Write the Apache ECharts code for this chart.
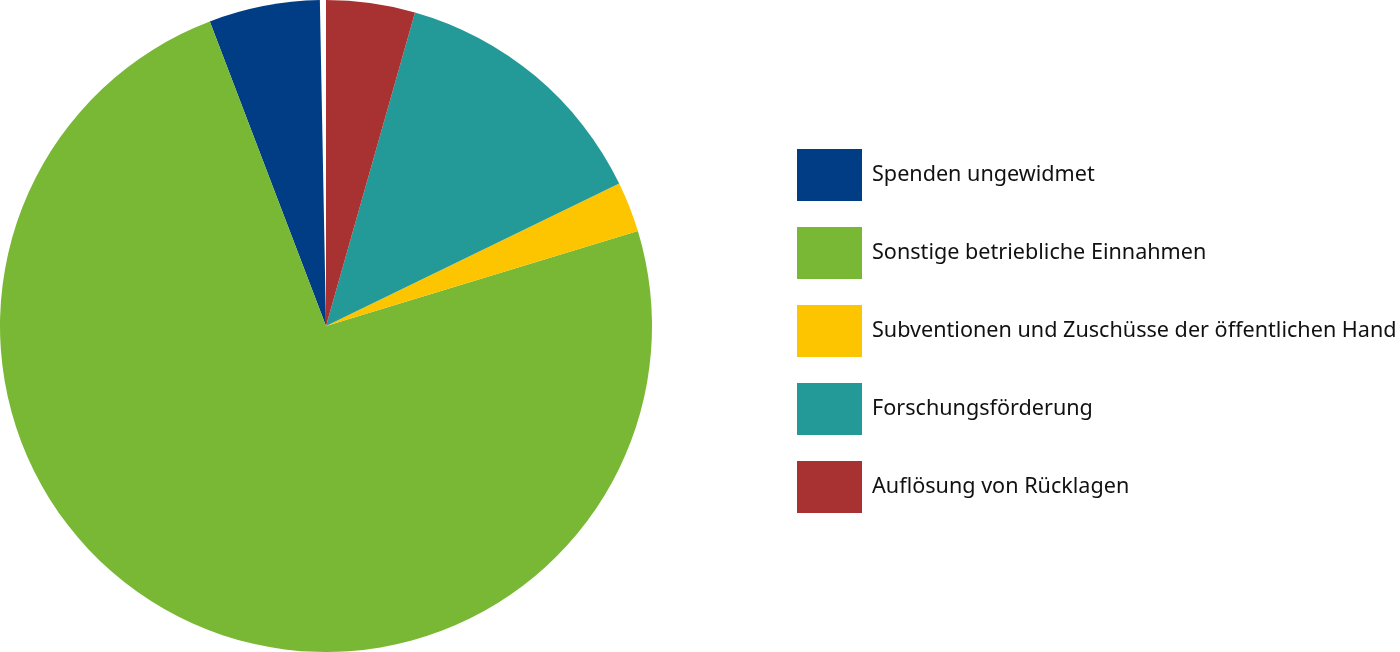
<!DOCTYPE html>
<html>
<head>
<meta charset="utf-8">
<script src="https://cdn.jsdelivr.net/npm/echarts@6/dist/echarts.min.js"></script>
<style>html,body{margin:0;padding:0;background:#fff;}#c{width:1400px;height:652px;}</style>
</head>
<body>
<div id="c"></div>
<script>
const categories = ['Spenden ungewidmet','Sonstige betriebliche Einnahmen','Subventionen und Zuschüsse der öffentlichen Hand','Forschungsförderung','Auflösung von Rücklagen'];
const values = [5.5, 73.9, 2.5, 13.4, 4.4];
const colors = ['#003d85','#78b834','#fdc500','#249a98','#a83232'];
const gapValue = 0.3;

const chart = echarts.init(document.getElementById('c'));
const data = [{name: '', value: gapValue, itemStyle: {color: '#ffffff'}}]
  .concat(categories.map((n, i) => ({name: n, value: values[i], itemStyle: {color: colors[i]}})));
chart.setOption({
  animation: false,
  legend: {
    data: categories,
    orient: 'vertical',
    left: 792,
    top: 144,
    itemWidth: 65,
    itemHeight: 52,
    itemGap: 26,
    icon: 'rect',
    textStyle: {fontFamily: 'Noto Sans', fontSize: 21.6, color: '#111', padding: [6, 0, 0, 5]}
  },
  series: [{
    type: 'pie',
    center: [326, 326],
    radius: 326,
    startAngle: 90,
    clockwise: false,
    label: {show: false},
    labelLine: {show: false},
    emphasis: {disabled: true},
    silent: true,
    data: data
  }]
});
</script>
</body>
</html>
